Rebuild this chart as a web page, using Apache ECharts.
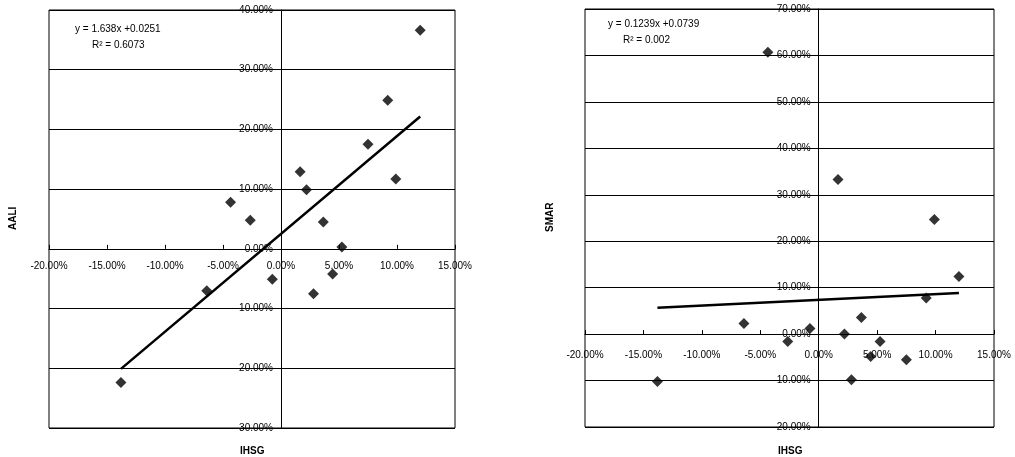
<!DOCTYPE html>
<html>
<head>
<meta charset="utf-8">
<script src="https://cdn.jsdelivr.net/npm/echarts@6/dist/echarts.min.js"></script>
<style>
  html, body { margin: 0; padding: 0; background: #fff; }
  #chart { width: 1015px; height: 457px; }
</style>
</head>
<body>
<div id="chart"></div>
<script>
// Monthly returns: IHSG (market index) against two stocks
const ihsg = [0.120, 0.092, 0.075, 0.099, 0.0165, 0.022, -0.0435, -0.0265, 0.0365, 0.0525, -0.0075, 0.0445, 0.028, -0.064, -0.138];
const aali = [0.366, 0.249, 0.175, 0.117, 0.129, 0.099, 0.078, 0.048, 0.045, 0.003, -0.051, -0.042, -0.075, -0.070, -0.224];
const smar = [0.124, 0.078, -0.055, 0.247, 0.333, 0.000, 0.607, -0.016, 0.036, -0.016, 0.012, -0.048, -0.098, 0.023, -0.102];

// Linear trend lines (slope, intercept, R²)
const aaliFit = { slope: 1.638, intercept: 0.0251, r2: '0.6073' };
const smarFit = { slope: 0.1239, intercept: 0.0739, r2: '0.002' };

// Axis ranges
const xRange = { min: -0.20, max: 0.15, interval: 0.05 };
const aaliRange = { min: -0.30, max: 0.40, interval: 0.10 };
const smarRange = { min: -0.20, max: 0.70, interval: 0.10 };

// Plot boxes
const grids = [
  { left: 49, top: 10, width: 406, height: 418 },
  { left: 585, top: 9, width: 409, height: 418 }
];

const FONT = '"Liberation Sans", Arial, sans-serif';
const pct = v => (v * 100).toFixed(2) + '%';

function pairs(xs, ys) { return xs.map((x, i) => [x, ys[i]]); }
function fitLine(xs, fit) {
  const lo = Math.min(...xs), hi = Math.max(...xs);
  return [[lo, fit.intercept + fit.slope * lo], [hi, fit.intercept + fit.slope * hi]];
}
// distance (px) from the low edge of an axis to its zero value
function zeroShift(r, len) { return len * (0 - r.min) / (r.max - r.min); }

// x axis drawn across the plot at y = 0, labels hanging below it
function xAxisFor(gridIndex, yr, margin) {
  return {
    type: 'value', gridIndex, position: 'bottom',
    offset: -zeroShift(yr, grids[gridIndex].height),
    min: xRange.min, max: xRange.max, interval: xRange.interval,
    axisLine: { onZero: false, lineStyle: { color: '#000', width: 1 } },
    axisTick: { show: true, inside: true, length: 4, lineStyle: { color: '#000' } },
    axisLabel: { formatter: pct, color: '#000', fontFamily: FONT, fontSize: 10, margin },
    splitLine: { show: false }
  };
}
// y axis drawn down the plot at x = 0, labels to its left
function yAxisFor(gridIndex, r) {
  return {
    type: 'value', gridIndex, position: 'left',
    offset: -zeroShift(xRange, grids[gridIndex].width),
    min: r.min, max: r.max, interval: r.interval,
    axisLine: { onZero: false, lineStyle: { color: '#000', width: 1 } },
    axisTick: { show: false },
    axisLabel: { formatter: pct, color: '#000', fontFamily: FONT, fontSize: 10, margin: 8,
                 padding: [4, 0, 0, 0] },
    splitLine: { show: true, lineStyle: { color: '#000', width: 1 } }
  };
}

const scatterStyle = { color: '#000' };

const option = {
  animation: false,
  backgroundColor: '#fff',
  grid: grids.map(g => Object.assign({ show: true, borderColor: '#000', borderWidth: 1, backgroundColor: 'transparent' }, g)),
  xAxis: [xAxisFor(0, aaliRange, 12), xAxisFor(1, smarRange, 16)],
  yAxis: [yAxisFor(0, aaliRange), yAxisFor(1, smarRange)],
  series: [
    { type: 'scatter', xAxisIndex: 0, yAxisIndex: 0, data: pairs(ihsg, aali),
      symbol: 'diamond', symbolSize: 11, itemStyle: scatterStyle },
    { type: 'line', xAxisIndex: 0, yAxisIndex: 0, data: fitLine(ihsg, aaliFit),
      symbol: 'none', lineStyle: { color: '#000', width: 2.5 }, z: 3 },
    { type: 'scatter', xAxisIndex: 1, yAxisIndex: 1, data: pairs(ihsg, smar),
      symbol: 'diamond', symbolSize: 11, itemStyle: scatterStyle },
    { type: 'line', xAxisIndex: 1, yAxisIndex: 1, data: fitLine(ihsg, smarFit),
      symbol: 'none', lineStyle: { color: '#000', width: 2.5 }, z: 3 }
  ],
  graphic: [
    // trend line equations
    { type: 'text', left: 75, top: 24, style: { text: 'y = ' + aaliFit.slope + 'x +' + aaliFit.intercept, font: '10px ' + FONT, fill: '#000' } },
    { type: 'text', left: 92, top: 40, style: { text: 'R² = ' + aaliFit.r2, font: '10px ' + FONT, fill: '#000' } },
    { type: 'text', left: 608, top: 19, style: { text: 'y = ' + smarFit.slope + 'x +' + smarFit.intercept, font: '10px ' + FONT, fill: '#000' } },
    { type: 'text', left: 623, top: 35, style: { text: 'R² = ' + smarFit.r2, font: '10px ' + FONT, fill: '#000' } },
    // axis titles
    { type: 'text', left: 240, top: 446, style: { text: 'IHSG', font: 'bold 10px ' + FONT, fill: '#000' } },
    { type: 'text', left: 778, top: 446, style: { text: 'IHSG', font: 'bold 10px ' + FONT, fill: '#000' } },
    { type: 'text', x: 8, y: 230, rotation: Math.PI / 2, style: { text: 'AALI', font: 'bold 10px ' + FONT, fill: '#000' } },
    { type: 'text', x: 545, y: 232, rotation: Math.PI / 2, style: { text: 'SMAR', font: 'bold 10px ' + FONT, fill: '#000' } }
  ]
};

const chart = echarts.init(document.getElementById('chart'), null, { renderer: 'canvas' });
chart.setOption(option);
</script>
</body>
</html>
